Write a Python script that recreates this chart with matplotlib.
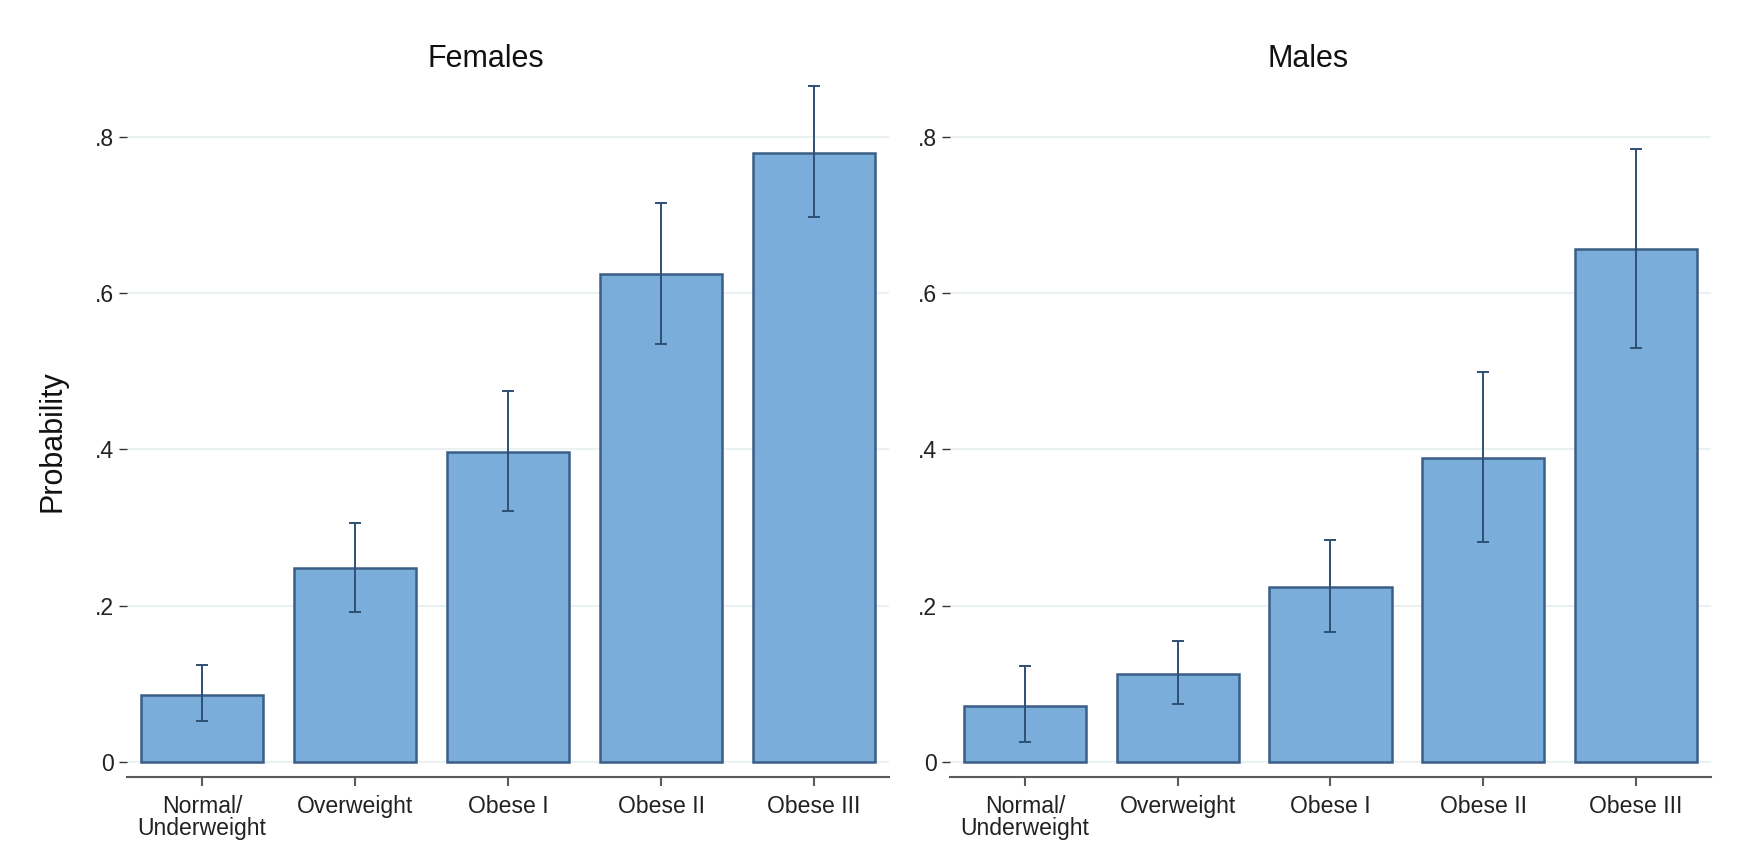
import matplotlib.pyplot as plt
import numpy as np

plt.rcParams['font.family'] = ['Liberation Sans', 'DejaVu Sans']

# BMI categories on the x axis
categories = ['Normal/\nUnderweight', 'Overweight', 'Obese I', 'Obese II', 'Obese III']

# predicted probability and 95% CI by sex
female_prob = [0.086, 0.248, 0.397, 0.624, 0.780]
female_lo = [0.052, 0.192, 0.321, 0.535, 0.698]
female_hi = [0.124, 0.306, 0.475, 0.715, 0.865]

male_prob = [0.072, 0.113, 0.224, 0.389, 0.657]
male_lo = [0.025, 0.074, 0.167, 0.282, 0.530]
male_hi = [0.1225, 0.155, 0.2835, 0.499, 0.785]

yticks = [0, 0.2, 0.4, 0.6, 0.8]
ytick_labels = ['0', '.2', '.4', '.6', '.8']

BAR_FILL = '#7badda'
BAR_EDGE = '#3a5e85'
ERR_COLOR = '#2e5074'
GRID_COLOR = '#e9f1f3'
AXIS_COLOR = '#5a5a5a'


def draw_panel(ax, prob, lo, hi):
    x = np.arange(len(categories))
    prob = np.asarray(prob)
    err = np.vstack([prob - np.asarray(lo), np.asarray(hi) - prob])

    ax.bar(x, prob, width=0.8, color=BAR_FILL, edgecolor=BAR_EDGE,
           linewidth=1.8, zorder=2)
    ax.errorbar(x, prob, yerr=err, fmt='none', ecolor=ERR_COLOR,
                elinewidth=1.4, capsize=4, capthick=1.4, zorder=3)

    ax.set_xlim(-0.49, 4.49)
    ax.set_ylim(-0.0188, 0.87)

    ax.set_yticks(yticks)
    ax.set_yticklabels(ytick_labels)
    ax.set_xticks(x)
    ax.set_xticklabels(categories, linespacing=0.95)

    for s in ['top', 'right', 'left']:
        ax.spines[s].set_visible(False)
    ax.spines['bottom'].set_color(AXIS_COLOR)
    ax.spines['bottom'].set_linewidth(1.5)

    ax.yaxis.grid(True, color=GRID_COLOR, linewidth=1.5, zorder=0)
    ax.set_axisbelow(True)

    ax.tick_params(axis='y', length=6, width=1.0, color='#333333',
                   pad=3.5, labelsize=16.6, labelcolor='#222222')
    ax.tick_params(axis='x', length=6.5, width=1.5, color=AXIS_COLOR,
                   pad=6.5, labelsize=16.6, labelcolor='#222222')


fig = plt.figure(figsize=(17.37, 8.65), dpi=100)
ax1 = fig.add_axes([0.0731, 0.1021, 0.4387, 0.8028])
ax2 = fig.add_axes([0.5469, 0.1021, 0.4381, 0.8028])

draw_panel(ax1, female_prob, female_lo, female_hi)
draw_panel(ax2, male_prob, male_lo, male_hi)

fig.text(0.2798, 0.9318, 'Females', ha='center', va='center',
         fontsize=22, color='#111111')
fig.text(0.7530, 0.9318, 'Males', ha='center', va='center',
         fontsize=22, color='#111111')
fig.text(0.030, 0.49, 'Probability', ha='center', va='center',
         rotation=90, fontsize=22, color='#111111')

fig.savefig('out.png', dpi=100)
